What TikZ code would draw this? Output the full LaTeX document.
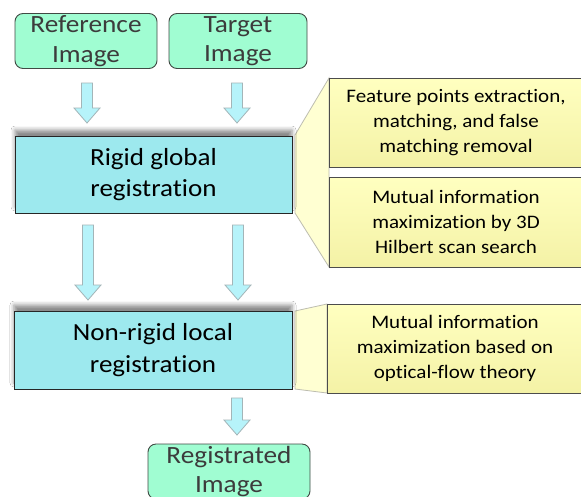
\documentclass[tikz,border=0pt]{standalone}
\usepackage{fontspec}
\setmainfont{Carlito}[Ligatures={NoCommon}, FakeStretch=1.1]
\usetikzlibrary{shadows.blur}
\definecolor{mint}{HTML}{A0FDD2}
\definecolor{mintline}{HTML}{404A44}
\definecolor{cyanbox}{HTML}{9DE9EE}
\definecolor{arrowfill}{HTML}{B6F3FA}
\definecolor{arrowline}{HTML}{A3B5B8}
\definecolor{calltop}{HTML}{FFFFC0}
\definecolor{callbot}{HTML}{F4F2A6}
\definecolor{pointerfill}{HTML}{FFFFD2}
\definecolor{pointerline}{HTML}{BDBDB0}
\definecolor{darktext}{HTML}{3C3C3C}
\tikzset{
  imagebox/.style={draw=mintline, line width=0.9pt, fill=mint, rounded corners=8pt,
    align=center, inner sep=0pt, text=darktext,
    font=\fontsize{24.8}{29.5}\selectfont},
  stagebox/.style={draw=black!85, line width=0.9pt, fill=cyanbox, align=center, inner sep=0pt,
    font=\fontsize{24.6}{31.7}\selectfont,
    blur shadow={shadow xshift=0pt, shadow yshift=6pt, shadow opacity=45, shadow blur radius=4pt}},
  callbox/.style={draw=black!70, line width=0.7pt, top color=calltop, bottom color=callbot,
    align=center, inner sep=0pt, font=\fontsize{19.1}{25}\selectfont},
  pointer/.style={fill=pointerfill, draw=pointerline, line width=0.8pt},
  blockarrow/.style={fill=arrowfill, draw=arrowline, line width=0.8pt, line join=miter}
}
% block arrow: x, top y, tip y (y grows downward)
\newcommand{\bkarrow}[3]{%
  \draw[blockarrow] (#1-5.5,#2) -- (#1+5.5,#2) -- (#1+5.5,#3-15) -- (#1+13,#3-15)
    -- (#1,#3) -- (#1-13,#3-15) -- (#1-5.5,#3-15) -- cycle;}
\begin{document}
\begin{tikzpicture}[x=1pt,y=-1pt]
\useasboundingbox (0,0) rectangle (581,496);
\fill[white] (0,0) rectangle (581,496);
\clip (0,0) rectangle (581,496);

% callout pointers (behind)
\coordinate (p1a) at (295,135);
\coordinate (p1b) at (329,78);
\coordinate (p1c) at (329,267);
\coordinate (p1d) at (295,213);
\draw[pointer] (p1a) -- (p1b) -- (p1c) -- (p1d) -- cycle;
\coordinate (p2a) at (295,311);
\coordinate (p2b) at (327,304);
\coordinate (p2c) at (327,393);
\coordinate (p2d) at (295,389);
\draw[pointer] (p2a) -- (p2b) -- (p2c) -- (p2d) -- cycle;

% image boxes
\node[imagebox, minimum width=142pt, minimum height=55pt] (ref) at (86,41) {Reference\\Image};
\node[imagebox, minimum width=138pt, minimum height=55pt] (tgt) at (238,41) {Target\\Image};
\node[imagebox, minimum width=162pt, minimum height=55pt] (out) at (229,471.5) {Registrated\\Image};

% stage boxes
\node[stagebox, minimum width=277pt, minimum height=77pt] (rigid) at (153.5,174.5) {\raisebox{-2pt}{\shortstack{Rigid global\\[6pt]registration}}};
\node[stagebox, minimum width=278pt, minimum height=78pt] (nonrigid) at (153,350) {Non-rigid local\\registration};

% callout boxes
\node[callbox, minimum width=254pt, minimum height=89pt] (c1) at (456,122.5)
  {Feature points extraction,\\matching, and false\\matching removal};
\node[callbox, minimum width=254pt, minimum height=90pt] (c2) at (456,222)
  {Mutual information\\maximization by 3D\\Hilbert scan search};
\node[callbox, minimum width=256pt, minimum height=89pt] (c3) at (455,348.5)
  {Mutual information\\maximization based on\\optical-flow theory};

% block arrows
\bkarrow{87}{83}{123}
\bkarrow{237}{83}{123}
\bkarrow{88}{225}{300}
\bkarrow{238}{225}{300}
\bkarrow{237}{398}{435}
\end{tikzpicture}
\end{document}
